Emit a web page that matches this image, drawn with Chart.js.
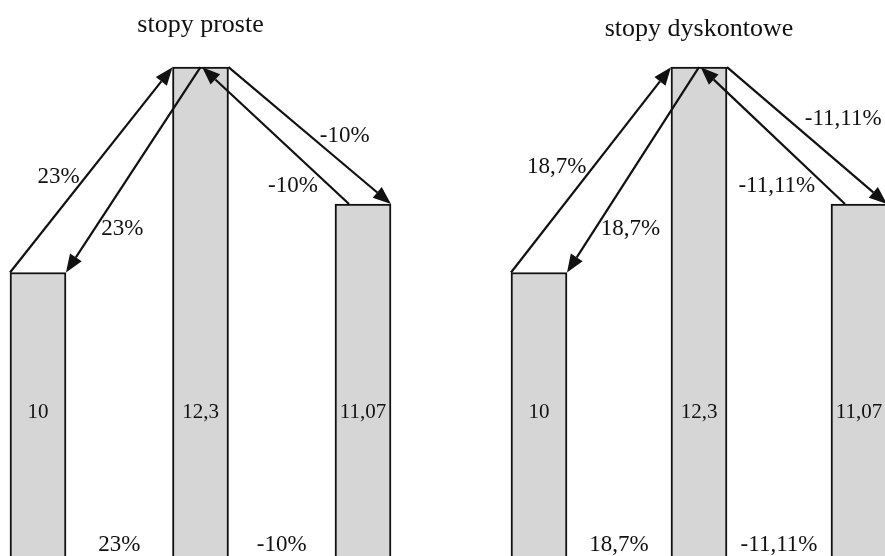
<!DOCTYPE html>
<html>
<head>
<meta charset="utf-8">
<script src="https://cdn.jsdelivr.net/npm/chart.js@4/dist/chart.umd.min.js"></script>
<style>
    html, body { margin: 0; padding: 0; background: #fff; overflow: hidden; width: 885px; height: 556px; }
    canvas { position: absolute; top: 0; }
    #simpleChart { left: 0; }
    #discountChart { left: 443px; }
</style>
</head>
<body>
<canvas id="simpleChart" width="440" height="556"></canvas>
<canvas id="discountChart" width="520" height="556"></canvas>
<script>
// dane
const periods = ["t0", "t1", "t2"];
const barValues = ["10", "12,3", "11,07"];        // wartosci wpisane w slupki
const barHeights = [58, 100, 72];                  // wysokosc slupkow na schemacie (odczyt z rysunku)
const simpleRates = ["23%", "-10%"];               // stopy proste
const discountRates = ["18,7%", "-11,11%"];        // stopy dyskontowe

// strzalki: [slupek, polozenie na szerokosci slupka], rate = ktora stopa
const arrowSpecs = [
    { from: [0, 0], to: [1, 0], rate: 0 },
    { from: [1, 0.5], to: [0, 1], rate: 0 },
    { from: [2, 0.25], to: [1, 0.53], rate: 1 },
    { from: [1, 1], to: [2, 1], rate: 1 },
];

const serif = '"Liberation Serif", "DejaVu Serif", serif';
const ink = "#111";

// labelPos: [t wzdluz strzalki, odstep od linii] dla kazdej strzalki
function arrowPlugin(rates, labelPos) {
    return {
        id: "arrows",
        afterDatasetsDraw: function (chart) {
            var ctx = chart.ctx;
            var bars = chart.getDatasetMeta(0).data;
            var pt = function (i, f) {
                var b = bars[i];
                return { x: b.x - b.width / 2 + f * b.width, y: b.y };
            };
            ctx.save();
            ctx.strokeStyle = ink;
            ctx.fillStyle = ink;
            ctx.lineWidth = 2.2;

            arrowSpecs.forEach(function (a, k) {
                var s = pt(a.from[0], a.from[1]);
                var e = pt(a.to[0], a.to[1]);
                var ang = Math.atan2(e.y - s.y, e.x - s.x);
                var head = 18, half = 7;
                var bx = e.x - head * Math.cos(ang), by = e.y - head * Math.sin(ang);
                ctx.beginPath();
                ctx.moveTo(s.x, s.y);
                ctx.lineTo(bx, by);
                ctx.stroke();
                ctx.beginPath();
                ctx.moveTo(e.x, e.y);
                ctx.lineTo(bx + half * Math.sin(ang), by - half * Math.cos(ang));
                ctx.lineTo(bx - half * Math.sin(ang), by + half * Math.cos(ang));
                ctx.closePath();
                ctx.fill();

                // opis strzalki
                var t = labelPos[k][0], gap = labelPos[k][1];
                var lx = s.x + t * (e.x - s.x) + gap;
                var ly = s.y + t * (e.y - s.y);
                ctx.font = "23px " + serif;
                ctx.textBaseline = "middle";
                ctx.textAlign = gap < 0 ? "right" : "left";
                ctx.fillText(rates[a.rate], lx, ly);
            });

            // wartosci w slupkach
            ctx.font = "21px " + serif;
            ctx.textAlign = "center";
            ctx.textBaseline = "middle";
            bars.forEach(function (b, i) {
                ctx.fillText(barValues[i], b.x, chart.chartArea.bottom - 144);
            });

            // stopy na dole miedzy slupkami
            ctx.font = "23px " + serif;
            rates.forEach(function (r, i) {
                ctx.fillText(r, (bars[i].x + bars[i + 1].x) / 2, chart.chartArea.bottom - 11);
            });
            ctx.restore();
        },
    };
}

function makeChart(id, title, rates, pad, titlePad, labelPos) {
    var ctx = document.getElementById(id).getContext("2d");
    return new Chart(ctx, {
        type: "bar",
        data: {
            labels: periods,
            datasets: [
                {
                    data: barHeights,
                    backgroundColor: "#d6d6d6",
                    borderColor: ink,
                    borderWidth: 2,
                    barThickness: 56,
                    clip: false,
                },
            ],
        },
        options: {
            responsive: false,
            animation: false,
            layout: { padding: pad },
            plugins: {
                legend: { display: false },
                tooltip: { enabled: false },
                title: {
                    display: true,
                    text: title,
                    color: ink,
                    font: { family: serif, size: 26, weight: "normal", lineHeight: 1.2 },
                    padding: titlePad,
                },
            },
            scales: {
                x: { display: false, offset: false },
                y: { display: false, min: 0, max: 100 },
            },
        },
        plugins: [arrowPlugin(rates, labelPos)],
    });
}

makeChart("simpleChart", "stopy proste", simpleRates,
    { left: 38, right: 77, top: 0, bottom: 0 }, { top: 10, bottom: 26 },
    [[0.466, -6], [0.79, 7], [0.13, -12], [0.5, 10]]);
makeChart("discountChart", "stopy dyskontowe", discountRates,
    { left: 96, right: 104, top: 0, bottom: 0 }, { top: 14, bottom: 22 },
    [[0.515, -7], [0.79, 6], [0.13, -11], [0.38, 17]]);
</script>
</body>
</html>
